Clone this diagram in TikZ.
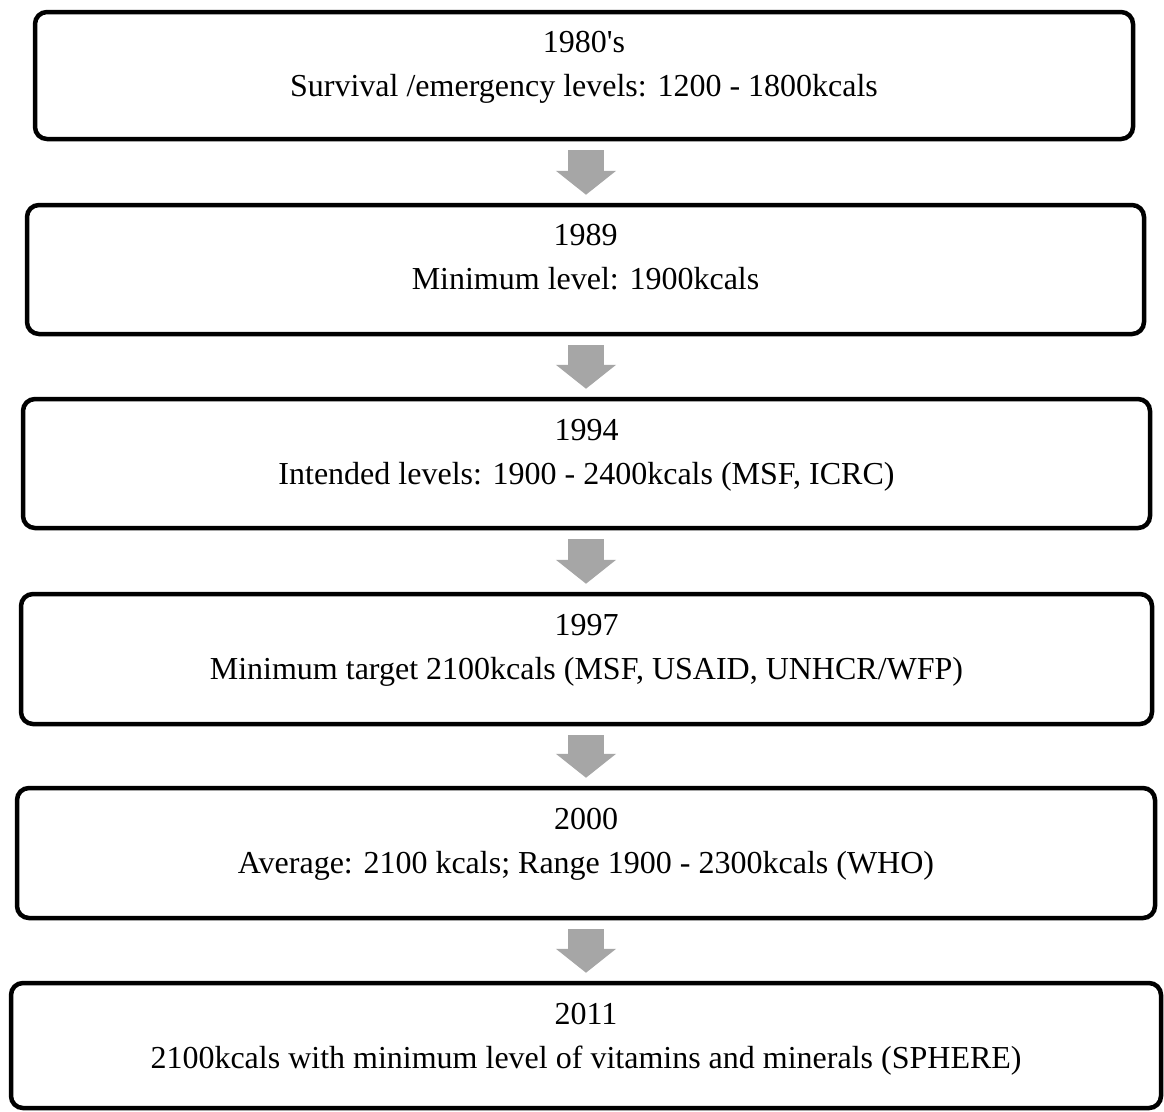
\documentclass[tikz,border=0pt]{standalone}
\usepackage{fontspec}
\setmainfont{Liberation Serif}
\usetikzlibrary{arrows.meta,calc}
\definecolor{arrowgray}{RGB}{166,166,166}
\begin{document}
\begin{tikzpicture}[x=1pt,y=-1pt,
  stagebox/.style={draw=black,line width=4.5pt,rounded corners=12pt,inner sep=0pt,fill=white},
  stagetext/.style={anchor=base,inner sep=0pt,font=\fontsize{32}{44}\selectfont},
  downarrow/.style={draw=arrowgray,line width=36pt,-{Triangle[width=59pt,length=24pt]}}]
\useasboundingbox (0,0) rectangle (1164,1111);
\fill[white] (0,0) rectangle (1164,1111);
\coordinate (axis) at (586,0);
% boxes (line centres)
\node[stagebox,minimum width=1098pt,minimum height=127pt] (b1) at (584,75.5) {};
\node[stagebox,minimum width=1117pt,minimum height=129pt] (b2) at (585.5,269.5) {};
\node[stagebox,minimum width=1127pt,minimum height=129pt] (b3) at (586.5,463.5) {};
\node[stagebox,minimum width=1131pt,minimum height=130pt] (b4) at (586.5,659) {};
\node[stagebox,minimum width=1138pt,minimum height=130pt] (b5) at (586,853) {};
\node[stagebox,minimum width=1150pt,minimum height=125pt] (b6) at (586,1045.5) {};
% texts
\node[stagetext] (y1) at ($(b1.north)+(0,-43pt)$) {1980\textquotesingle s};
\node[stagetext] (t1) at ($(b1.north)+(0,-87pt)$) {Survival /emergency levels: 1200 - 1800kcals};
\node[stagetext] (y2) at ($(b2.north)+(0,-43pt)$) {1989};
\node[stagetext] (t2) at ($(b2.north)+(0,-87pt)$) {Minimum level: 1900kcals};
\node[stagetext] (y3) at ($(b3.north)+(0,-44pt)$) {1994};
\node[stagetext] (t3) at ($(b3.north)+(0,-88pt)$) {Intended levels: 1900 - 2400kcals (MSF, ICRC)};
\node[stagetext] (y4) at ($(b4.north)+(0,-44pt)$) {1997};
\node[stagetext] (t4) at ($(b4.north)+(0,-88pt)$) {Minimum target 2100kcals (MSF, USAID, UNHCR/WFP)};
\node[stagetext] (y5) at ($(b5.north)+(0,-44pt)$) {2000};
\node[stagetext] (t5) at ($(b5.north)+(0,-88pt)$) {Average: 2100 kcals; Range 1900 - 2300kcals (WHO)};
\node[stagetext] (y6) at ($(b6.north)+(0,-44pt)$) {2011};
\node[stagetext] (t6) at ($(b6.north)+(0,-88pt)$) {2100kcals with minimum level of vitamins and minerals (SPHERE)};
% arrows
\foreach \a/\b in {b1/b2,b2/b3,b3/b4,b4/b5,b5/b6}{
  \draw[downarrow] ($(\a.south -| axis)+(0,-9pt)$) -- ($(\b.north -| axis)+(0,8pt)$);
}
\end{tikzpicture}
\end{document}
